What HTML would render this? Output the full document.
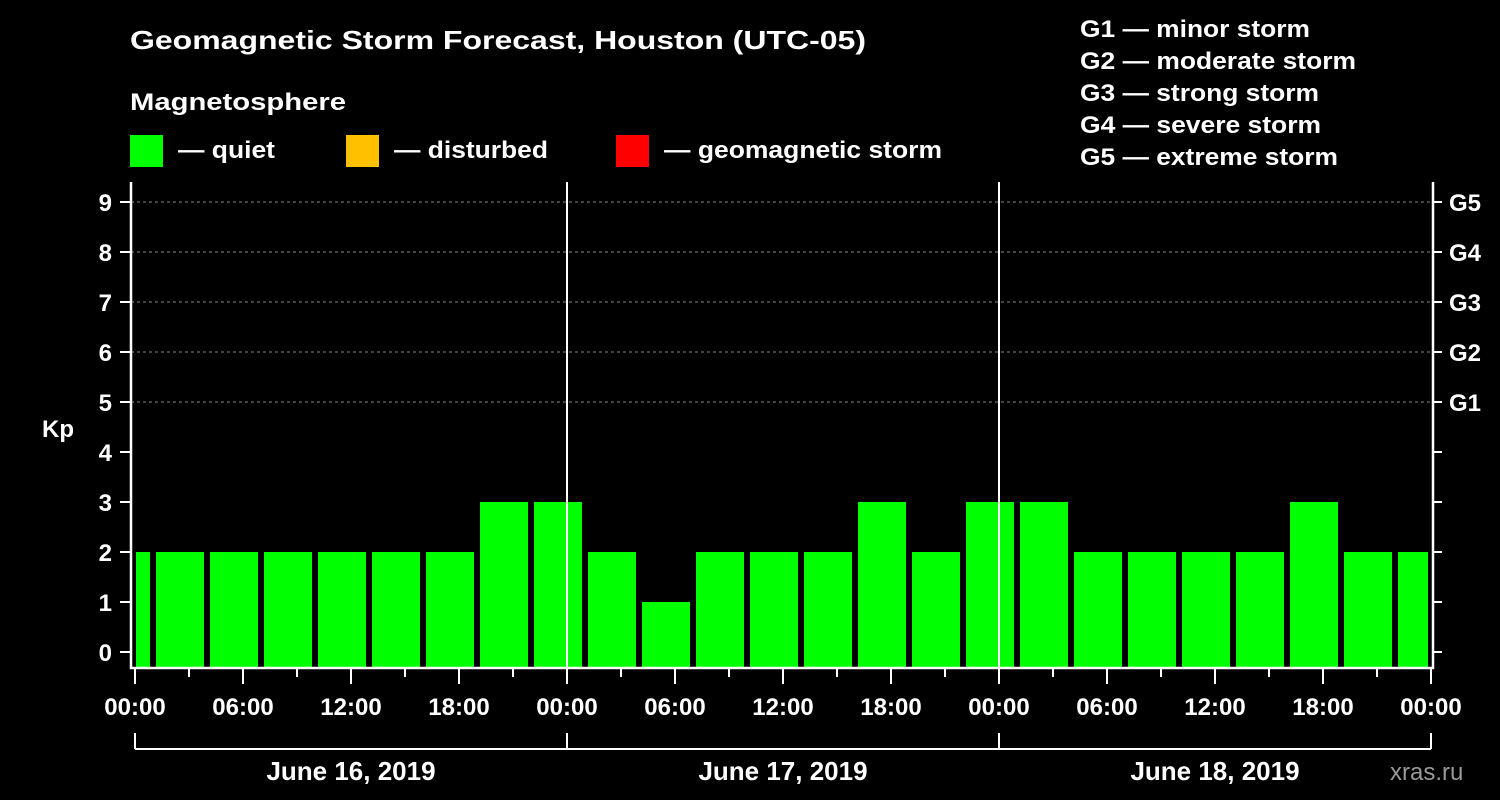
<!DOCTYPE html>
<html><head><meta charset="utf-8"><style>
html,body{margin:0;padding:0;background:#000;}
svg{display:block;font-family:"Liberation Sans",Arial,sans-serif;font-weight:bold;}
</style></head><body>
<svg id="chart" width="1500" height="800" viewBox="0 0 1500 800" xmlns="http://www.w3.org/2000/svg">
<rect width="1500" height="800" fill="#000"/>
<text x="130" y="49" fill="#fff" font-size="26" textLength="736" lengthAdjust="spacingAndGlyphs">Geomagnetic Storm Forecast, Houston (UTC-05)</text>
<text x="130" y="110" fill="#fff" font-size="24" textLength="216" lengthAdjust="spacingAndGlyphs">Magnetosphere</text>
<g><rect x="130" y="135" width="33" height="32" fill="#00ff00"/><text x="178" y="158" fill="#fff" font-size="24" textLength="97" lengthAdjust="spacingAndGlyphs">— quiet</text></g>
<g><rect x="346" y="135" width="33" height="32" fill="#ffc000"/><text x="394" y="158" fill="#fff" font-size="24" textLength="154" lengthAdjust="spacingAndGlyphs">— disturbed</text></g>
<g><rect x="616" y="135" width="33" height="32" fill="#ff0000"/><text x="664" y="158" fill="#fff" font-size="24" textLength="278" lengthAdjust="spacingAndGlyphs">— geomagnetic storm</text></g>
<g fill="#fff" font-size="24">
<text x="1080" y="37" textLength="230" lengthAdjust="spacingAndGlyphs">G1 — minor storm</text>
<text x="1080" y="69" textLength="276" lengthAdjust="spacingAndGlyphs">G2 — moderate storm</text>
<text x="1080" y="101" textLength="239" lengthAdjust="spacingAndGlyphs">G3 — strong storm</text>
<text x="1080" y="133" textLength="241" lengthAdjust="spacingAndGlyphs">G4 — severe storm</text>
<text x="1080" y="165" textLength="258" lengthAdjust="spacingAndGlyphs">G5 — extreme storm</text>
</g>
<text x="42" y="437" fill="#fff" font-size="24">Kp</text>
<g id="grid"></g><g id="bars"></g><g id="axes"></g>
<text x="1390" y="780" fill="#999" font-size="24" font-weight="normal">xras.ru</text>
</svg>
<script>
const kpValues = [2,2,2,2,2,2,2,3,3,2,1,2,2,2,3,2,3,3,2,2,2,2,3,2,2];
const barStartHours = [-2,1,4,7,10,13,16,19,22,25,28,31,34,37,40,43,46,49,52,55,58,61,64,67,70];
const yTickLabels = ["0","1","2","3","4","5","6","7","8","9"];
const gLabels = ["G1","G2","G3","G4","G5"];
const xTickLabels = ["00:00","06:00","12:00","18:00","00:00","06:00","12:00","18:00","00:00","06:00","12:00","18:00","00:00"];
const dayLabels = ["June 16, 2019","June 17, 2019","June 18, 2019"];
const NS="http://www.w3.org/2000/svg";
const X0=135, PX_PER_H=18, TOTAL_H=72;
const xS=h=>X0+h*PX_PER_H;
const yS=v=>652-v*50;
const L=131, R=1433, T=182, B=668;
function mk(tag,attrs,parent){const e=document.createElementNS(NS,tag);for(const k in attrs)e.setAttribute(k,attrs[k]);parent.appendChild(e);return e;}
const grid=document.getElementById('grid'), bars=document.getElementById('bars'), axes=document.getElementById('axes');
for(let v=5;v<=9;v++){
  const ln=mk('line',{x1:L,x2:R,y1:yS(v),y2:yS(v),stroke:'#888','stroke-dasharray':'3,3','stroke-width':1},grid);
  
  
}
kpValues.forEach((v,i)=>{
  const h=barStartHours[i];
  let x1=Math.max(xS(h)+3,X0+1), x2=Math.min(xS(h+3)-3,xS(TOTAL_H)-3);
  const c=v>=5?'#ff0000':(v>=4?'#ffc000':'#00ff00');
  const r=mk('rect',{x:x1,y:yS(v),width:x2-x1,height:B-yS(v),fill:c},bars);
  
  
});
// axes frame
mk('path',{d:`M${L} ${T}V${B}H${R}V${T}`,stroke:'#fff','stroke-width':2.5,fill:'none'},axes);
for(let d=1;d<3;d++){mk('line',{x1:xS(d*24),x2:xS(d*24),y1:T,y2:B,stroke:'#fff','stroke-width':2},axes);}
yTickLabels.forEach((t,i)=>{
  mk('line',{x1:120,x2:L,y1:yS(i),y2:yS(i),stroke:'#fff','stroke-width':2},axes);
  mk('line',{x1:R,x2:1442,y1:yS(i),y2:yS(i),stroke:'#fff','stroke-width':2},axes);
  const tx=mk('text',{x:112,y:yS(i)+9,fill:'#fff','font-size':24,'text-anchor':'end'},axes);
  tx.textContent=t;
  
  
});
gLabels.forEach((t,i)=>{
  const tx=mk('text',{x:1449,y:yS(5+i)+9,fill:'#fff','font-size':24},axes);
  tx.textContent=t;
  
  
});
for(let h=0;h<=TOTAL_H;h+=3){
  const major=h%6===0;
  mk('line',{x1:xS(h),x2:xS(h),y1:B,y2:major?684:677,stroke:'#fff','stroke-width':2},axes);
}
xTickLabels.forEach((t,i)=>{
  const tx=mk('text',{x:xS(i*6),y:715,fill:'#fff','font-size':24,'text-anchor':'middle'},axes);
  tx.textContent=t;
  
  
});
mk('line',{x1:xS(0),x2:xS(TOTAL_H),y1:749,y2:749,stroke:'#fff','stroke-width':2},axes);
for(let d=0;d<=3;d++){mk('line',{x1:xS(d*24),x2:xS(d*24),y1:733,y2:749,stroke:'#fff','stroke-width':2},axes);}
dayLabels.forEach((t,i)=>{
  const tx=mk('text',{x:xS(i*24+12),y:780,fill:'#fff','font-size':26,'text-anchor':'middle'},axes);
  tx.textContent=t;
  
  
});
</script>
</body></html>
